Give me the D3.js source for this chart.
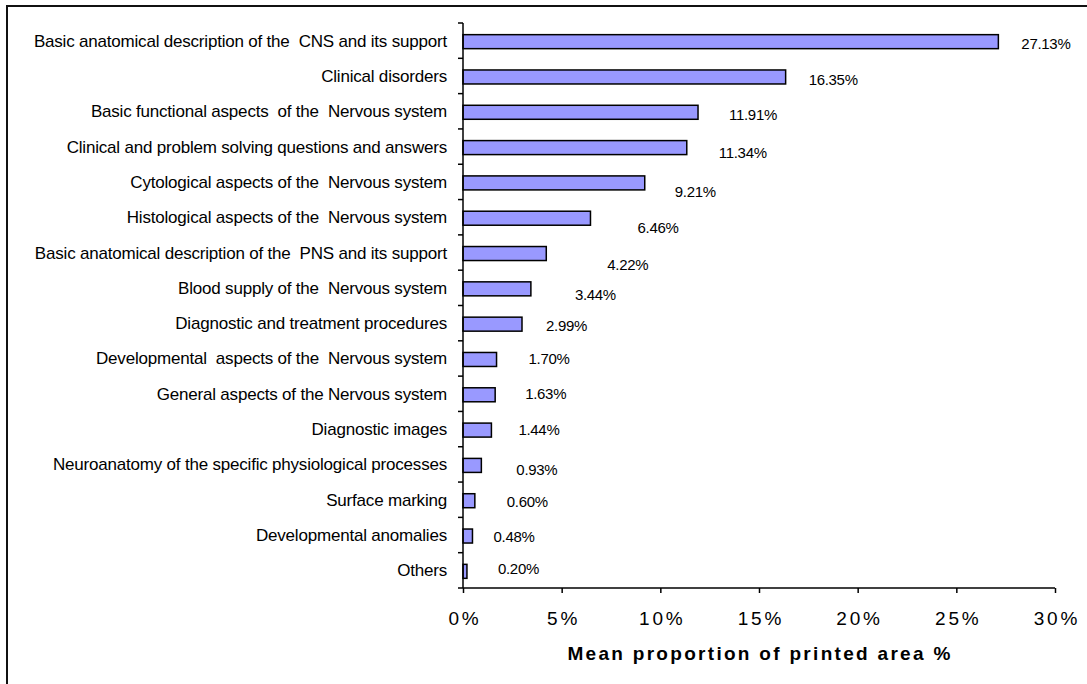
<!DOCTYPE html>
<html>
<head>
<meta charset="utf-8">
<script src="https://cdn.jsdelivr.net/npm/d3@7/dist/d3.min.js"></script>
<style>
  html, body { margin: 0; padding: 0; background: #fff; }
  svg { display: block; font-family: "Liberation Sans", Arial, sans-serif; }
</style>
</head>
<body>
<svg id="chart" width="1087" height="684"></svg>
<script>
// ---- data ----
const categories = [
  "Basic anatomical description of the  CNS and its support",
  "Clinical disorders",
  "Basic functional aspects  of the  Nervous system",
  "Clinical and problem solving questions and answers",
  "Cytological aspects of the  Nervous system",
  "Histological aspects of the  Nervous system",
  "Basic anatomical description of the  PNS and its support",
  "Blood supply of the  Nervous system",
  "Diagnostic and treatment procedures",
  "Developmental  aspects of the  Nervous system",
  "General aspects of the Nervous system",
  "Diagnostic images",
  "Neuroanatomy of the specific physiological processes",
  "Surface marking",
  "Developmental anomalies",
  "Others"
];
const values = [27.13, 16.35, 11.91, 11.34, 9.21, 6.46, 4.22, 3.44, 2.99, 1.70, 1.63, 1.44, 0.93, 0.60, 0.48, 0.20];
const valueLabels = ["27.13%", "16.35%", "11.91%", "11.34%", "9.21%", "6.46%", "4.22%", "3.44%", "2.99%", "1.70%", "1.63%", "1.44%", "0.93%", "0.60%", "0.48%", "0.20%"];
const xTicks = [0, 5, 10, 15, 20, 25, 30];
const xTickLabels = ["0%", "5%", "10%", "15%", "20%", "25%", "30%"];
const xTitle = "Mean proportion of printed area %";

// ---- layout (label nudges relative to bar end / bar centre, px) ----
const labelDx = [23, 23, 31, 32, 30, 47, 61, 44, 24, 32, 30, 27, 35, 32, 21, 31];
const labelDy = [2, 3, 3, 5, 9, 10, 11, 6, 2, 0, -1, 0, 5, 1, 1, -2];

const svg = d3.select("#chart");
const pLeft = 463, pRight = 1055, pTop = 23, pBottom = 588;

const x = d3.scaleLinear().domain([0, 30]).range([pLeft, pRight]);
const y = d3.scaleBand().domain(categories).range([pTop, pBottom]).padding(0);
const bh = 14;
const mid = c => y(c) + y.bandwidth() / 2 + 1;

// outer frame
svg.append("rect")
  .attr("x", 7).attr("y", 6).attr("width", 1200).attr("height", 800)
  .attr("fill", "none").attr("stroke", "#111").attr("stroke-width", 2);

// bars
svg.append("g").selectAll("rect").data(values).join("rect")
  .attr("x", x(0))
  .attr("y", (d, i) => mid(categories[i]) - bh / 2)
  .attr("width", d => x(d) - x(0))
  .attr("height", bh)
  .attr("fill", "#9999ff")
  .attr("stroke", "#000")
  .attr("stroke-width", 1.5);

// value labels
svg.append("g").selectAll("text").data(values).join("text")
  .attr("x", (d, i) => x(d) + labelDx[i])
  .attr("y", (d, i) => mid(categories[i]) + labelDy[i] + 5)
  .attr("font-size", 15)
  .attr("letter-spacing", "-0.3px")
  .attr("fill", "#000")
  .text((d, i) => valueLabels[i]);

// y axis line
svg.append("line").attr("x1", pLeft).attr("x2", pLeft).attr("y1", pTop).attr("y2", pBottom)
  .attr("stroke", "#000").attr("stroke-width", 1.5);
// boundary ticks
const bounds = categories.map(c => y(c)).concat([pBottom]);
svg.append("g").selectAll("line").data(bounds).join("line")
  .attr("x1", pLeft - 5).attr("x2", pLeft).attr("y1", d => d).attr("y2", d => d)
  .attr("stroke", "#000").attr("stroke-width", 1.5);
// category labels
svg.append("g").selectAll("text").data(categories).join("text")
  .attr("x", pLeft - 16)
  .attr("y", d => mid(d) + 5)
  .attr("text-anchor", "end")
  .attr("font-size", 17)
  .attr("letter-spacing", "-0.2px")
  .style("white-space", "pre")
  .attr("fill", "#000")
  .text(d => d);

// x axis
const xAxis = d3.axisBottom(x).tickValues(xTicks).tickSize(5).tickPadding(19)
  .tickFormat((d, i) => xTickLabels[i]);
const gx = svg.append("g").attr("transform", `translate(0,${pBottom})`).call(xAxis);
gx.select(".domain").attr("stroke", "#000").attr("stroke-width", 1.5).attr("d", `M${pLeft},0H${pRight}`);
gx.selectAll(".tick line").attr("stroke", "#000").attr("stroke-width", 1.5);
gx.selectAll(".tick text")
  .attr("font-family", "'Liberation Sans', Arial, sans-serif")
  .attr("font-size", 19)
  .attr("letter-spacing", "2.8px")
  .attr("dx", "1.4px")
  .attr("fill", "#000");

// x title
svg.append("text")
  .attr("x", (pLeft + pRight) / 2 + 1)
  .attr("y", 660)
  .attr("text-anchor", "middle")
  .attr("font-size", 19)
  .attr("font-weight", "bold")
  .attr("letter-spacing", "2.3px")
  .attr("fill", "#000")
  .text(xTitle);
</script>
</body>
</html>
